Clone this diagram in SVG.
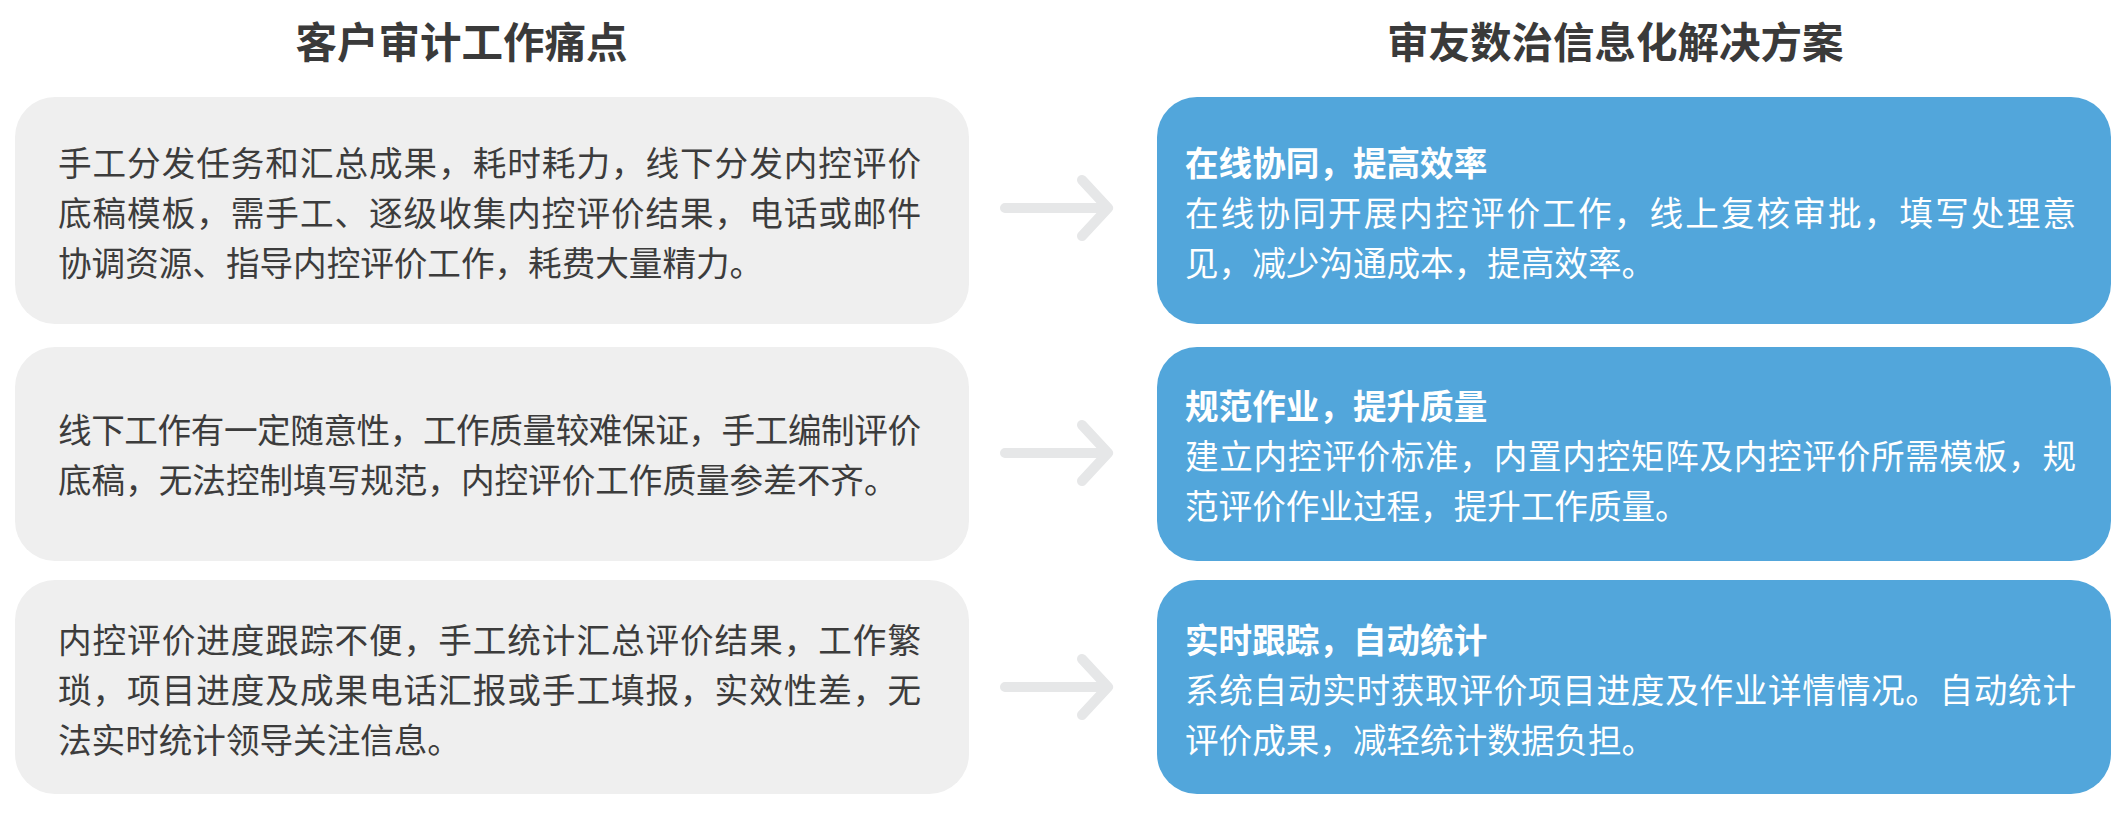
<svg xmlns="http://www.w3.org/2000/svg" width="2122" height="820" viewBox="0 0 2122 820">
<style>
.title{font-family:"Noto Sans CJK SC","Noto Sans CJK TC",sans-serif;font-size:41.5px;font-weight:700;fill:#3a3a3a}
.pain{fill:#efefef}
.sol{fill:#52a6db}
.pt{font-family:"Noto Sans CJK SC","Noto Sans CJK TC",sans-serif;font-size:33.6px;font-weight:400;fill:#3c3c3c}
.st{font-family:"Noto Sans CJK SC","Noto Sans CJK TC",sans-serif;font-size:33.6px;font-weight:400;fill:#ffffff}
.sh{font-weight:700}
.arrow{fill:none;stroke:#e6e7e8;stroke-width:10;stroke-linecap:round;stroke-linejoin:round}
</style>
<rect width="2122" height="820" fill="#ffffff"/>
<g id="title-left"><text class="title" x="295.5" y="58">客户审计工作痛点</text></g>
<g id="title-right"><text class="title" x="1387" y="58">审友数治信息化解决方案</text></g>

<g id="pain-1">
<rect class="pain" x="15" y="97" width="954" height="227" rx="40"/>
<text class="pt" x="58" y="175.5" textLength="863" lengthAdjust="spacing">手工分发任务和汇总成果，耗时耗力，线下分发内控评价</text>
<text class="pt" x="58" y="225.5" textLength="863" lengthAdjust="spacing">底稿模板，需手工、逐级收集内控评价结果，电话或邮件</text>
<text class="pt" x="58" y="275.5">协调资源、指导内控评价工作，耗费大量精力。</text>
</g>
<g id="pain-2">
<rect class="pain" x="15" y="347" width="954" height="214" rx="40"/>
<text class="pt" x="58" y="442.5" textLength="863" lengthAdjust="spacing">线下工作有一定随意性，工作质量较难保证，手工编制评价</text>
<text class="pt" x="58" y="492.5">底稿，无法控制填写规范，内控评价工作质量参差不齐。</text>
</g>
<g id="pain-3">
<rect class="pain" x="15" y="580" width="954" height="214" rx="40"/>
<text class="pt" x="58" y="652.5" textLength="863" lengthAdjust="spacing">内控评价进度跟踪不便，手工统计汇总评价结果，工作繁</text>
<text class="pt" x="58" y="702.5" textLength="863" lengthAdjust="spacing">琐，项目进度及成果电话汇报或手工填报，实效性差，无</text>
<text class="pt" x="58" y="752.5">法实时统计领导关注信息。</text>
</g>

<g id="solution-1">
<rect class="sol" x="1157" y="97" width="954" height="227" rx="40"/>
<text class="st sh" x="1185" y="175.5">在线协同，提高效率</text>
<text class="st" x="1185" y="225.5" textLength="891" lengthAdjust="spacing">在线协同开展内控评价工作，线上复核审批，填写处理意</text>
<text class="st" x="1185" y="275.5">见，减少沟通成本，提高效率。</text>
</g>
<g id="solution-2">
<rect class="sol" x="1157" y="347" width="954" height="214" rx="40"/>
<text class="st sh" x="1185" y="419">规范作业，提升质量</text>
<text class="st" x="1185" y="469" textLength="891" lengthAdjust="spacing">建立内控评价标准，内置内控矩阵及内控评价所需模板，规</text>
<text class="st" x="1185" y="519">范评价作业过程，提升工作质量。</text>
</g>
<g id="solution-3">
<rect class="sol" x="1157" y="580" width="954" height="214" rx="40"/>
<text class="st sh" x="1185" y="652.5">实时跟踪，自动统计</text>
<text class="st" x="1185" y="702.5" textLength="891" lengthAdjust="spacing">系统自动实时获取评价项目进度及作业详情情况。自动统计</text>
<text class="st" x="1185" y="752.5">评价成果，减轻统计数据负担。</text>
</g>

<g id="connectors">
<path class="arrow" d="M1005 208 H1107 M1082 180 L1108 208 L1082 236"/>
<path class="arrow" d="M1005 453 H1107 M1082 425 L1108 453 L1082 481"/>
<path class="arrow" d="M1005 687 H1107 M1082 659 L1108 687 L1082 715"/>
</g>
</svg>
